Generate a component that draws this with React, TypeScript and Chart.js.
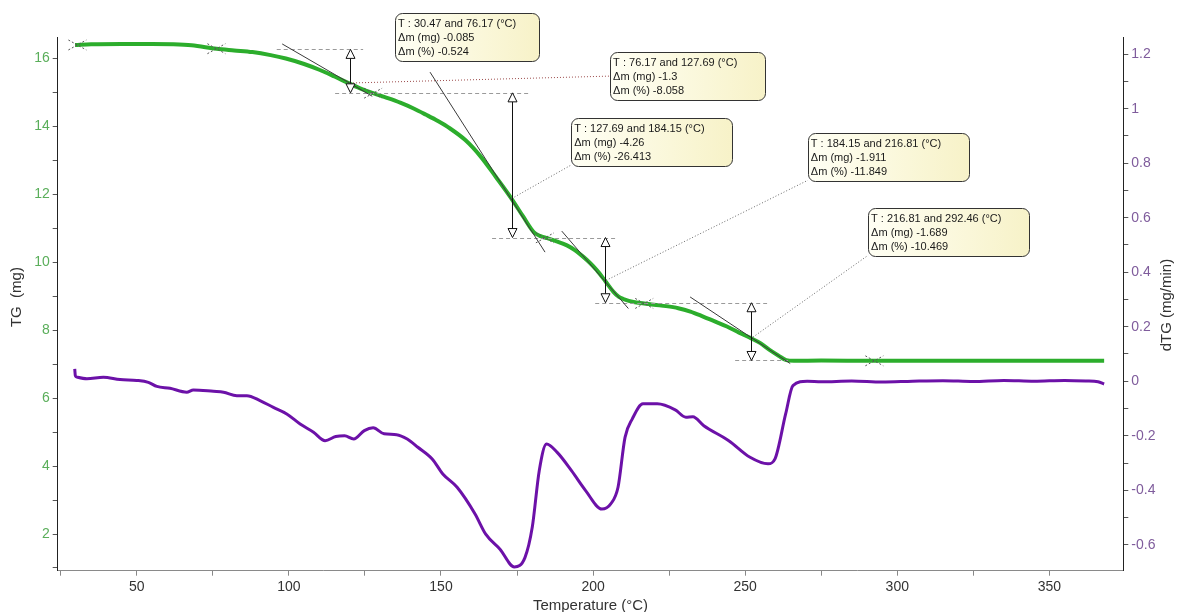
import React, { useEffect, useRef } from 'react';
import { Chart, registerables } from 'chart.js';

Chart.register(...registerables);

// ---------- data ----------
const tgTemp = [29.7, 35, 45, 55, 62, 68, 76.2, 82, 88, 94, 99, 105, 110, 115, 120, 124, 127.7, 132, 136.6, 141, 145, 149, 153, 158, 163, 168, 173, 177, 180.4, 182.5, 185, 188, 191.4, 194, 196.8, 199, 201.2, 204, 206.7, 208.5, 210, 213.3, 216.8, 220, 224, 228, 232, 236, 240, 244, 248, 252, 255, 258, 261, 263.5, 266, 275, 292, 320, 345, 368];
const tgMass = [16.4, 16.42, 16.43, 16.43, 16.42, 16.39, 16.29, 16.24, 16.19, 16.1, 16.0, 15.84, 15.67, 15.47, 15.26, 15.1, 14.98, 14.85, 14.7, 14.53, 14.35, 14.16, 13.94, 13.6, 13.12, 12.52, 11.9, 11.35, 10.9, 10.78, 10.71, 10.62, 10.5, 10.36, 10.16, 9.98, 9.77, 9.45, 9.13, 8.98, 8.92, 8.83, 8.79, 8.75, 8.71, 8.65, 8.55, 8.41, 8.26, 8.11, 7.93, 7.76, 7.62, 7.42, 7.25, 7.12, 7.1, 7.11, 7.1, 7.1, 7.1, 7.1];

const dtgTemp = [29.6, 29.8, 30.3, 33.6, 39.0, 44.5, 50, 53.8, 56.6, 60.9, 66.4, 68.6, 75.2, 78.5, 82.9, 86.2, 90.5, 94.9, 99.3, 103.7, 108.1, 111.9, 115.4, 118.3, 121.3, 124.8, 127.7, 131.3, 135.4, 138.9, 142.4, 147.1, 150.6, 155.3, 161.2, 164.7, 169.4, 174.1, 177.6, 180.0, 182.3, 184.7, 188.2, 192.9, 197.6, 202.9, 205.8, 208.2, 210.5, 212.9, 216.4, 221.1, 227.0, 230.5, 232.8, 236.4, 244.6, 251.6, 257.5, 259.8, 263.3, 265.7, 270.4, 275, 285, 295, 305, 315, 325, 335, 345, 355, 362, 366, 368];
const dtgRate = [0.045, 0.02, 0.015, 0.009, 0.015, 0.006, 0.003, -0.004, -0.019, -0.026, -0.04, -0.032, -0.037, -0.04, -0.053, -0.053, -0.071, -0.096, -0.12, -0.157, -0.187, -0.218, -0.203, -0.2, -0.212, -0.181, -0.171, -0.193, -0.196, -0.212, -0.242, -0.285, -0.34, -0.389, -0.487, -0.561, -0.616, -0.681, -0.647, -0.536, -0.328, -0.23, -0.261, -0.328, -0.402, -0.469, -0.45, -0.389, -0.206, -0.138, -0.083, -0.083, -0.105, -0.132, -0.13, -0.163, -0.218, -0.279, -0.303, -0.285, -0.12, -0.016, 0.0, -0.002, 0.001, -0.003, 0.0, 0.002, -0.001, 0.003, 0.0, 0.003, 0.001, -0.002, -0.01];

const xTickValues = [25, 50, 75, 100, 125, 150, 175, 200, 225, 250, 275, 300, 325, 350];
const tgTickValues = [1, 2, 3, 4, 5, 6, 7, 8, 9, 10, 11, 12, 13, 14, 15, 16];
const dtgTickValues = [-0.6, -0.5, -0.4, -0.3, -0.2, -0.1, 0, 0.1, 0.2, 0.3, 0.4, 0.5, 0.6, 0.7, 0.8, 0.9, 1.0, 1.1, 1.2];

// step analysis results
const stepRanges = ['30.47 and 76.17', '76.17 and 127.69', '127.69 and 184.15', '184.15 and 216.81', '216.81 and 292.46'];
const stepMassMg = ['-0.085', '-1.3', '-4.26', '-1.911', '-1.689'];
const stepMassPct = ['-0.524', '-8.058', '-26.413', '-11.849', '-10.469'];

// construction geometry (data coordinates: temperature, TG mass)
const markerTemps = [30.47, 76.17, 127.69, 184.15, 216.81, 292.46];
const markerMass = [16.4, 16.29, 14.98, 10.72, 8.79, 7.1];
const levelMass = [16.27, 14.99, 10.73, 8.81, 7.11];
const levelFrom = [96, 115.2, 166.8, 200.7, 246.7];
const levelTo = [124.4, 179.3, 207.9, 257.2, 264.8];
const arrowTemps = [120.1, 173.3, 204.0, 251.8];
const arrowTop = [16.27, 14.99, 10.73, 8.81];
const arrowBottom = [14.99, 10.73, 8.81, 7.11];
const tangentT1 = [97.8, 146.4, 189.7, 231.9];
const tangentM1 = [16.43, 15.6, 10.92, 8.98];
const tangentT2 = [127.4, 184.2, 211.6, 264.8];
const tangentM2 = [14.89, 10.3, 8.64, 7.02];
const boxTemps = [134.9, 205.6, 192.8, 270.6, 290.4];
const boxMass = [17.34, 16.19, 14.25, 13.8, 11.59];
const leaderTemps = [120.1, 173.3, 204.3, 252.6];
const leaderMass = [15.28, 11.88, 9.47, 7.8];

const FONT = '"Liberation Sans", Arial, sans-serif';

const annotPlugin = {
  id: 'tgaAnnot',
  afterDatasetsDraw(chart: any) {
    const ctx = chart.ctx;
    const xs = chart.scales.x;
    const ys = chart.scales.y;
    const px = (t: number) => xs.getPixelForValue(t);
    const py = (m: number) => ys.getPixelForValue(m);
    ctx.save();

    // dashed level lines
    ctx.strokeStyle = '#9a9a9a';
    ctx.lineWidth = 1;
    ctx.setLineDash([4, 3]);
    for (let i = 0; i < levelMass.length; i++) {
      const y = Math.round(py(levelMass[i])) + 0.5;
      ctx.beginPath();
      ctx.moveTo(px(levelFrom[i]), y);
      ctx.lineTo(px(levelTo[i]), y);
      ctx.stroke();
    }
    ctx.setLineDash([]);

    // tangents
    ctx.strokeStyle = '#3a3a3a';
    ctx.lineWidth = 1;
    for (let i = 0; i < tangentT1.length; i++) {
      ctx.beginPath();
      ctx.moveTo(px(tangentT1[i]), py(tangentM1[i]));
      ctx.lineTo(px(tangentT2[i]), py(tangentM2[i]));
      ctx.stroke();
    }

    // markers
    ctx.strokeStyle = '#555';
    ctx.setLineDash([2, 2]);
    for (let i = 0; i < markerTemps.length; i++) {
      const x = px(markerTemps[i]);
      const y = py(markerMass[i]);
      ctx.beginPath();
      ctx.moveTo(x - 9, y - 5);
      ctx.lineTo(x + 9, y + 5);
      ctx.moveTo(x - 9, y + 5);
      ctx.lineTo(x + 9, y - 5);
      ctx.stroke();
    }
    ctx.setLineDash([]);

    // box geometry
    ctx.font = '11px ' + FONT;
    const boxes = boxTemps.map((t, i) => {
      const lines = ['T : ' + stepRanges[i] + ' (°C)', 'Δm (mg) ' + stepMassMg[i], 'Δm (%) ' + stepMassPct[i]];
      const w = Math.max(...lines.map((l) => ctx.measureText(l).width)) + (i === 0 ? 26 : 31);
      return { x: px(t), y: py(boxMass[i]), w, h: 48, lines };
    });

    // leaders
    ctx.lineWidth = 1;
    ctx.setLineDash([1, 2]);
    for (let i = 0; i < leaderTemps.length; i++) {
      const b = boxes[i + 1];
      ctx.strokeStyle = i === 0 ? '#9b4a4a' : '#666';
      ctx.beginPath();
      ctx.moveTo(px(leaderTemps[i]), py(leaderMass[i]));
      if (i === 0) ctx.lineTo(b.x, b.y + b.h / 2);
      else ctx.lineTo(b.x, b.y + b.h - 1);
      ctx.stroke();
    }
    ctx.setLineDash([]);

    // arrows
    ctx.strokeStyle = '#111';
    for (let i = 0; i < arrowTemps.length; i++) {
      const x = Math.round(px(arrowTemps[i])) + 0.5;
      const yt = py(arrowTop[i]);
      const yb = py(arrowBottom[i]);
      ctx.lineWidth = 1;
      ctx.beginPath();
      ctx.moveTo(x, yt + 9);
      ctx.lineTo(x, yb - 9);
      ctx.stroke();
      ctx.fillStyle = '#fff';
      ctx.beginPath();
      ctx.moveTo(x, yt);
      ctx.lineTo(x - 4.5, yt + 9);
      ctx.lineTo(x + 4.5, yt + 9);
      ctx.closePath();
      ctx.fill();
      ctx.stroke();
      ctx.beginPath();
      ctx.moveTo(x, yb);
      ctx.lineTo(x - 4.5, yb - 9);
      ctx.lineTo(x + 4.5, yb - 9);
      ctx.closePath();
      ctx.fill();
      ctx.stroke();
    }

    // boxes
    for (const b of boxes) {
      const g = ctx.createLinearGradient(b.x, 0, b.x + b.w, 0);
      g.addColorStop(0, '#fffff4');
      g.addColorStop(1, '#f7f2c8');
      ctx.fillStyle = g;
      ctx.strokeStyle = '#333';
      ctx.lineWidth = 1;
      ctx.beginPath();
      (ctx as any).roundRect(Math.round(b.x) + 0.5, Math.round(b.y) + 0.5, Math.round(b.w), b.h, 7);
      ctx.fill();
      ctx.stroke();
      ctx.fillStyle = '#1a1a1a';
      ctx.textAlign = 'left';
      ctx.textBaseline = 'alphabetic';
      ctx.font = '11px ' + FONT;
      b.lines.forEach((l: string, k: number) => {
        ctx.fillText(l, b.x + 3, b.y + 14 + k * 14);
      });
    }
    ctx.restore();
  },
  afterDraw(chart: any) {
    const ctx = chart.ctx;
    const area = chart.chartArea;
    ctx.save();
    ctx.fillStyle = '#333';
    ctx.font = '15px ' + FONT;
    ctx.textAlign = 'center';
    ctx.textBaseline = 'alphabetic';
    ctx.fillText('Temperature (°C)', (area.left + area.right) / 2, 610);
    ctx.textBaseline = 'middle';
    ctx.save();
    ctx.translate(17, (area.top + area.bottom) / 2 - 7);
    ctx.rotate(-Math.PI / 2);
    ctx.fillText('TG  (mg)', 0, 0);
    ctx.restore();
    ctx.save();
    ctx.translate(1167, (area.top + area.bottom) / 2 + 1);
    ctx.rotate(-Math.PI / 2);
    ctx.fillText('dTG (mg/min)', 0, 0);
    ctx.restore();
    ctx.restore();
  },
};

export default function App() {
  const ref = useRef<HTMLCanvasElement | null>(null);
  useEffect(() => {
    if (!ref.current) return;
    Chart.defaults.font.family = FONT;
    const chart = new Chart(ref.current, {
      type: 'line',
      data: {
        datasets: [
          {
            label: 'TG',
            data: tgTemp.map((t, i) => ({ x: t, y: tgMass[i] })),
            borderColor: '#2cad2c',
            borderWidth: 4,
            pointRadius: 0,
            cubicInterpolationMode: 'monotone',
            yAxisID: 'y',
            fill: false,
          },
          {
            label: 'dTG',
            data: dtgTemp.map((t, i) => ({ x: t, y: dtgRate[i] })),
            borderColor: '#6c11a8',
            borderWidth: 3,
            pointRadius: 0,
            cubicInterpolationMode: 'monotone',
            yAxisID: 'y1',
            fill: false,
          },
        ],
      },
      options: {
        animation: false,
        responsive: false,
        events: [],
        layout: { padding: { top: 37.5, left: 0, right: 0, bottom: 0 } },
        plugins: { legend: { display: false }, tooltip: { enabled: false } },
        scales: {
          x: {
            type: 'linear',
            min: 24,
            max: 374.3,
            afterBuildTicks: (s: any) => {
              s.ticks = xTickValues.map((v) => ({ value: v }));
            },
            afterFit: (s: any) => {
              s.height = 41.3;
            },
            ticks: {
              autoSkip: false,
              maxRotation: 0,
              padding: 3,
              color: '#333',
              font: { size: 14 },
              callback: (v: any) => (Number(v) % 50 === 0 ? String(v) : ''),
            },
            grid: { drawOnChartArea: false, tickLength: 5, tickColor: '#888' },
            border: { color: '#8a8a8a', width: 1 },
          },
          y: {
            type: 'linear',
            position: 'left',
            min: 0.92,
            max: 16.62,
            afterBuildTicks: (s: any) => {
              s.ticks = tgTickValues.map((v) => ({ value: v }));
            },
            afterFit: (s: any) => {
              s.width = 57.7;
            },
            ticks: {
              autoSkip: false,
              padding: 3,
              color: '#5aae5a',
              font: { size: 14 },
              callback: (v: any) => (Number(v) % 2 === 0 ? String(v) : ''),
            },
            grid: { drawOnChartArea: false, tickLength: 5, tickColor: '#555' },
            border: { color: '#222', width: 1 },
          },
          y1: {
            type: 'linear',
            position: 'right',
            min: -0.695,
            max: 1.261,
            afterBuildTicks: (s: any) => {
              s.ticks = dtgTickValues.map((v) => ({ value: v }));
            },
            afterFit: (s: any) => {
              s.width = 53.7;
            },
            ticks: {
              autoSkip: false,
              padding: 3,
              color: '#7f5c9c',
              font: { size: 14 },
              callback: (v: any) => {
                const r = Math.round(Number(v) * 10);
                return r % 2 === 0 ? String(r / 10) : '';
              },
            },
            grid: { drawOnChartArea: false, tickLength: 5, tickColor: '#555' },
            border: { color: '#222', width: 1 },
          },
        },
      } as any,
      plugins: [annotPlugin],
    });
    return () => chart.destroy();
  }, []);

  return (
    <div style={{ position: 'fixed', left: 0, top: 0, width: 1177, height: 612, background: '#fff' }}>
      <canvas ref={ref} width={1177} height={612} style={{ width: 1177, height: 612, display: 'block' }} />
    </div>
  );
}
